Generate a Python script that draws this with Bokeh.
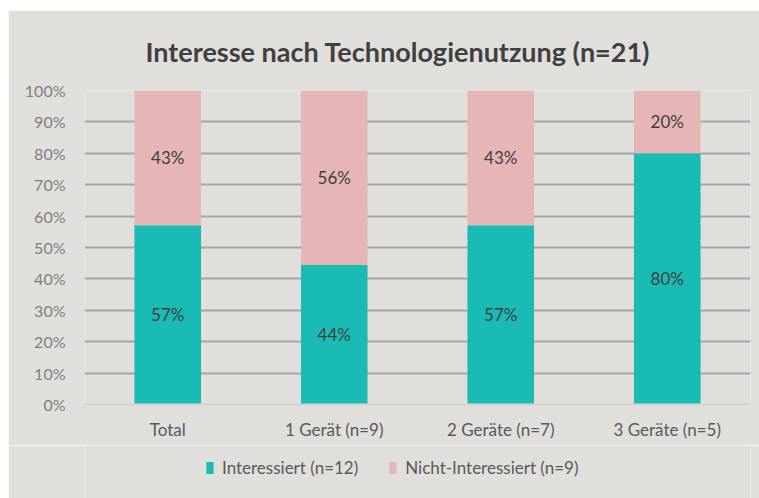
from bokeh.plotting import figure
from bokeh.layouts import column
from bokeh.models import ColumnDataSource, Legend, LegendItem, FixedTicker, Range1d
from bokeh.core.properties import value
from bokeh.embed import file_html
from bokeh.resources import INLINE

categories = ["Total", "1 Gerät (n=9)", "2 Geräte (n=7)", "3 Geräte (n=5)"]
interessiert = [57.1, 44.4, 57.1, 80.0]
nicht_interessiert = [42.9, 55.6, 42.9, 20.0]
series_names = ["Interessiert (n=12)", "Nicht-Interessiert (n=9)"]
y_ticks = [0, 10, 20, 30, 40, 50, 60, 70, 80, 90, 100]

FONT = "Lato"
BG = "#e0dfdc"
TEAL = "#19bbb4"
PINK = "#e6b6b6"

src = ColumnDataSource(dict(
    cat=categories,
    a=interessiert,
    b=nicht_interessiert,
    a_mid=[v / 2 for v in interessiert],
    b_mid=[a + b / 2 for a, b in zip(interessiert, nicht_interessiert)],
    a_lab=[f"{round(v)}%" for v in interessiert],
    b_lab=[f"{round(v)}%" for v in nicht_interessiert],
))

p = figure(x_range=categories, y_range=Range1d(0, 100), width=751, height=435,
           output_backend="svg", toolbar_location=None,
           min_border_left=76, min_border_right=9, min_border_top=80, min_border_bottom=41)
p.margin = (10, 0, 0, 8)
p.background_fill_color = BG
p.border_fill_color = BG
p.outline_line_color = None

p.title.text = "Interesse nach Technologienutzung (n=21)"
p.title.align = "left"
p.title.offset = 61
p.title.text_font = FONT
p.title.text_font_size = "27px"
p.title.text_font_style = "bold"
p.title.text_color = "#404040"
p.title.standoff = 45

r = p.vbar_stack(["a", "b"], x="cat", width=0.4, source=src, color=[TEAL, PINK], line_color=None)

for ycol, lcol in (("a_mid", "a_lab"), ("b_mid", "b_lab")):
    p.text(x="cat", y=ycol, text=lcol, source=src, text_align="center", text_baseline="middle",
           text_font=value(FONT), text_font_size="17px", text_color="#404040")

p.ygrid.ticker = FixedTicker(ticks=y_ticks[1:])
p.ygrid.grid_line_color = "#a6a6a6"
p.ygrid.grid_line_width = 2
p.ygrid.level = "underlay"
p.xgrid.grid_line_color = None

p.yaxis.ticker = FixedTicker(ticks=y_ticks)
p.yaxis.major_label_overrides = {t: f"{t}%" for t in y_ticks}
p.yaxis.axis_line_color = None
p.yaxis.major_tick_line_color = None
p.yaxis.minor_tick_line_color = None
p.yaxis.major_label_standoff = 13
p.yaxis.major_label_text_font = FONT
p.yaxis.major_label_text_font_size = "16px"
p.yaxis.major_label_text_color = "#7f7f7f"

p.xaxis.axis_line_color = "#d4d3d0"
p.xaxis.axis_line_width = 2
p.xaxis.major_tick_line_color = None
p.xaxis.major_label_standoff = 8
p.xaxis.major_label_text_font = FONT
p.xaxis.major_label_text_font_size = "17px"
p.xaxis.major_label_text_color = "#595959"

# legend strip below the chart (its bars lie outside its visible range; only swatches show)
p2 = figure(width=751, height=53, x_range=p.x_range, y_range=Range1d(1000, 1001),
            output_backend="svg", toolbar_location=None,
            min_border_left=76, min_border_right=9, min_border_top=0, min_border_bottom=0)
p2.margin = (0, 0, 0, 8)
p2.axis.visible = False
p2.grid.visible = False
p2.background_fill_color = BG
p2.border_fill_color = BG
p2.outline_line_color = None
r2 = p2.vbar_stack(["a", "b"], x="cat", width=0.4, source=src, color=[TEAL, PINK], line_color=None)

legend = Legend(items=[LegendItem(label=series_names[0], renderers=[r2[0]]),
                       LegendItem(label=series_names[1], renderers=[r2[1]])],
                orientation="horizontal", location=(121, 20))
legend.background_fill_alpha = 0
legend.border_line_color = None
legend.label_text_font = FONT
legend.label_text_font_size = "17px"
legend.label_text_color = "#595959"
legend.glyph_width = 9
legend.glyph_height = 15
legend.label_standoff = 8
legend.spacing = 30
legend.margin = 0
legend.padding = 0
p2.add_layout(legend)

layout = column(p, p2, spacing=0)
open("out.html", "w").write(file_html(layout, INLINE))
